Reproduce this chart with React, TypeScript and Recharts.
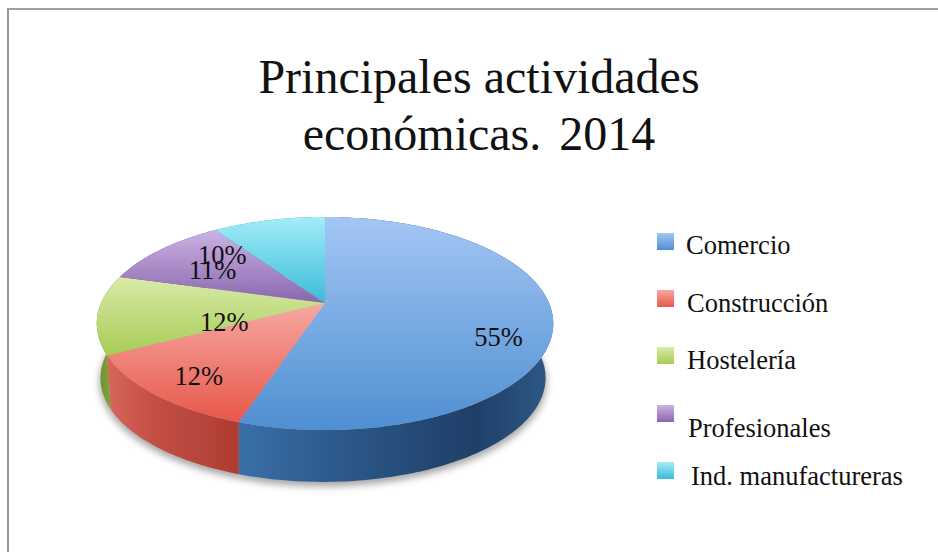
import React from 'react';
import { PieChart, Pie, Legend } from 'recharts';

const activities = ['Comercio', 'Construcción', 'Hostelería', 'Profesionales', 'Ind. manufactureras'];
const shares = [55.1, 12.2, 12, 11.1, 9.6];

// styling, one entry per slice
const topFrom = ['#a3c6f4', '#f7a8a2', '#d9eaa8', '#cbb3e4', '#a2ecf8'];
const topTo = ['#4f8fd2', '#e8574a', '#a6cc56', '#8a66ad', '#3cbcd9'];
const wallStops = [
  ['#3a6fa8', '#2b5788', '#1f3f68', '#2f5a86'],
  ['#d8665b', '#c44f44', '#b5443a', '#b03a2c'],
  ['#6f8d2e', '#7c9a36', '#8aa83c', '#8aa83c'],
  ['#6b4a8c', '#6b4a8c', '#6b4a8c', '#6b4a8c'],
  ['#2a93ab', '#2a93ab', '#2a93ab', '#2a93ab'],
];
const labelNudge = [[27, 23], [-22, 17], [46, 12], [-2, 3], [-64, 9]];
const legendRows = [
  { box: 233, text: 245, x: 686 },
  { box: 290, text: 303, x: 687 },
  { box: 347, text: 360, x: 687 },
  { box: 405, text: 428, x: 688 },
  { box: 462, text: 476, x: 691 },
];

const tableData = activities.map((name, i) => ({ name, value: shares[i], fill: topTo[i], idx: i }));

const FONT = '"Liberation Serif", serif';
const TILT = 0.458;
const PERSP = 0.1925;
const DEPTH = 55;
const BOTTOM_SCALE = 0.975;
const BOTTOM_SHIFT = -2;

// perspective projection of a point on the pie disc, theta clockwise from 12 o'clock
const project = (cx: number, cy: number, r: number, theta: number, f = 1) => {
  const rad = (theta * Math.PI) / 180;
  const u = f * Math.sin(rad);
  const v = -f * Math.cos(rad);
  const w = 1 - PERSP * v;
  return [cx + (r * u) / w, cy + (r * TILT * v) / w];
};

const arcPoints = (p: any, scale = 1, dy = 0, dx = 0) => {
  const from = 90 - p.startAngle;
  const to = 90 - p.endAngle;
  const pts: number[][] = [];
  const steps = Math.max(2, Math.ceil(Math.abs(to - from)));
  for (let i = 0; i <= steps; i++) {
    const [x, y] = project(p.cx, p.cy, p.outerRadius * scale, from + ((to - from) * i) / steps);
    pts.push([x + dx, y + dy]);
  }
  return pts;
};

const toPath = (pts: number[][]) => 'M' + pts.map((q) => `${q[0].toFixed(1)},${q[1].toFixed(1)}`).join('L') + 'Z';

const TopFace = (p: any) => (
  <path d={toPath([[p.cx, p.cy], ...arcPoints(p)])} fill={`url(#top${p.idx})`} stroke="none" />
);

const WallFace = (p: any) => {
  const upper = arcPoints(p);
  const lower = arcPoints(p, BOTTOM_SCALE, DEPTH, BOTTOM_SHIFT).reverse();
  return <path d={toPath([...upper, ...lower])} fill={`url(#wall${p.idx})`} stroke="none" />;
};

const ShadowFace = (p: any) => (
  <path
    d={toPath([[p.cx + BOTTOM_SHIFT, p.cy + DEPTH + 4], ...arcPoints(p, BOTTOM_SCALE + 0.005, DEPTH + 4, BOTTOM_SHIFT)])}
    fill="#000"
    fillOpacity={0.34}
    filter="url(#pieShadow)"
  />
);

const renderLabel = (p: any) => {
  const i = p.index;
  const [x, y] = project(p.cx, p.cy, p.outerRadius, 90 - p.midAngle, 0.65);
  return (
    <text x={x + labelNudge[i][0]} y={y + labelNudge[i][1]} dy="0.33em" textAnchor="middle" fontSize={26.5} fontFamily={FONT} fill="#111">
      {`${Math.round(shares[i])}%`}
    </text>
  );
};

const renderLegend = (props: any) => {
  // every Pie reports its slices, keep one row per activity
  const items = activities.map((name) => (props.payload || []).find((e: any) => e.value === name)).filter(Boolean);
  return (
    <div style={{ position: 'relative', width: 938, height: 552 }}>
      {items.map((entry: any, i: number) => (
        <React.Fragment key={entry.value}>
          <div
            style={{
              position: 'absolute',
              left: 657,
              top: legendRows[i].box,
              width: 17,
              height: 17,
              background: `linear-gradient(${topFrom[i]}, ${topTo[i]})`,
            }}
          />
          <div
            style={{
              position: 'absolute',
              left: legendRows[i].x,
              top: legendRows[i].text - 15,
              lineHeight: '30px',
              fontSize: 26.5,
              fontFamily: FONT,
              color: '#111',
              whiteSpace: 'nowrap',
            }}
          >
            {entry.value}
          </div>
        </React.Fragment>
      ))}
    </div>
  );
};

export default function App() {
  return (
    <div style={{ position: 'fixed', left: 0, top: 0, width: 938, height: 552, overflow: 'hidden', background: '#fff' }}>
      <div style={{ position: 'absolute', left: 7, top: 8, width: 960, height: 600, borderTop: '2px solid #a0a0a0', borderLeft: '2px solid #979797' }} />
      <div style={{ position: 'absolute', left: 0, top: 0 }}>
        <PieChart width={938} height={552} margin={{ top: 0, right: 0, bottom: 0, left: 0 }}>
          <defs>
            {topFrom.map((c, i) => (
              <linearGradient key={c} id={`top${i}`} x1="0" y1="0" x2="0" y2="1">
                <stop offset="0%" stopColor={c} />
                <stop offset="100%" stopColor={topTo[i]} />
              </linearGradient>
            ))}
            {wallStops.map((stops, i) => (
              <linearGradient key={i} id={`wall${i}`} x1="0" y1="0" x2="1" y2="0">
                <stop offset="0%" stopColor={stops[0]} />
                <stop offset="35%" stopColor={stops[1]} />
                <stop offset="75%" stopColor={stops[2]} />
                <stop offset="100%" stopColor={stops[3]} />
              </linearGradient>
            ))}
            <filter id="pieShadow" x="-20%" y="-20%" width="140%" height="140%">
              <feGaussianBlur stdDeviation="3.5" />
            </filter>
          </defs>
          <text x={479} y={93} textAnchor="middle" fontSize={48} fontFamily={FONT} fill="#111">
            Principales actividades
          </text>
          <text x={479} y={150} textAnchor="middle" fontSize={48} wordSpacing={-3} fontFamily={FONT} fill="#111" style={{ whiteSpace: 'pre' }}>
            {'económicas.  2014'}
          </text>
          <Pie data={tableData} dataKey="value" nameKey="name" cx={325} cy={303} outerRadius={224} startAngle={90} endAngle={-270} stroke="none" legendType="none" isAnimationActive={false} shape={ShadowFace} />
          <Pie data={tableData} dataKey="value" nameKey="name" cx={325} cy={303} outerRadius={224} startAngle={90} endAngle={-270} stroke="none" legendType="none" isAnimationActive={false} shape={WallFace} />
          <Pie data={tableData} dataKey="value" nameKey="name" cx={325} cy={303} outerRadius={224} startAngle={90} endAngle={-270} stroke="none" labelLine={false} label={renderLabel} isAnimationActive={false} shape={TopFace} />
          <Legend content={renderLegend} wrapperStyle={{ left: 0, top: 0, width: 938, height: 552 }} />
        </PieChart>
      </div>
    </div>
  );
}
